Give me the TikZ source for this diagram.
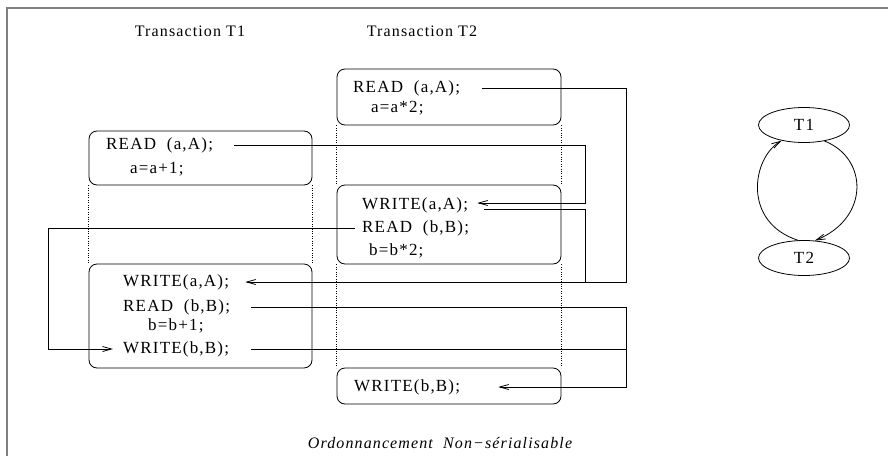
\documentclass[tikz,border=0pt]{standalone}
\usepackage{fontspec}
\setmainfont{Liberation Serif}[LetterSpace=7]
\usetikzlibrary{arrows.meta,shapes.geometric}
\definecolor{FrameColor}{HTML}{808080}
\tikzstyle{trans_box}=[rectangle,
                         minimum width=224pt,
                         draw=black,
                         line width=0.8pt,
                         rounded corners=8, ]
\tikzstyle{stmt}=[anchor=west, inner sep=0pt, font=\fontsize{17}{19}\selectfont]
\tikzstyle{graph_node}=[ellipse, draw=black, line width=0.8pt,
                          minimum width=91pt, minimum height=35pt, inner sep=0pt,
                          font=\fontsize{17}{19}\selectfont]
\tikzstyle{dep}=[line width=0.8pt, -{Straight Barb[length=9pt,width=5pt]}]
\tikzstyle{link}=[line width=0.8pt]

\begin{document}
\begin{tikzpicture}[x=1pt, y=-1pt]
    \useasboundingbox (0,0) rectangle (888,455);
    % ---------------------------------------------------------------------------------------------------------
    %  cadre et titres
    \draw[FrameColor, line width=1.5pt] (7,470) -- (7,8) -- (900,8);
    \node at (190,31) (titleT1) [font=\fontsize{16}{18}\selectfont] {Transaction T1};
    \node at (422,31) (titleT2) [font=\fontsize{16}{18}\selectfont] {Transaction T2};

    % ---------------------------------------------------------------------------------------------------------
    %  blocs des transactions
    \node at (449,97) (T2B1) [trans_box, minimum height=56pt] {};
    \node at (200.5,158) (T1B1) [trans_box, minimum width=223pt, minimum height=54pt] {};
    \node at (449,224.5) (T2B2) [trans_box, minimum height=79pt] {};
    \node at (200.5,316) (T1B2) [trans_box, minimum width=223pt, minimum height=104pt] {};
    \node at (449,386) (T2B3) [trans_box, minimum height=36pt] {};

    \draw[dotted] (T1B1.south west) -- (T1B2.north west);
    \draw[dotted] (T1B1.south east) -- (T1B2.north east);
    \draw[dotted] (T2B1.south west) -- (T2B2.north west);
    \draw[dotted] (T2B1.south east) -- (T2B2.north east);
    \draw[dotted] (T2B2.south west) -- (T2B3.north west);
    \draw[dotted] (T2B2.south east) -- (T2B3.north east);

    \node at (353,88) (T2ra) [stmt] {READ~~(a,A);};
    \node at (371,108) (T2a2) [stmt] {a=a*2;};
    \node at (106,145) (T1ra) [stmt] {READ~~(a,A);};
    \node at (130,169) (T1a1) [stmt] {a=a+1;};
    \node at (362,205) (T2wa) [stmt] {WRITE(a,A);};
    \node at (362,228) (T2rb) [stmt] {READ~~(b,B);};
    \node at (369,251) (T2b2) [stmt] {b=b*2;};
    \node at (123,282) (T1wa) [stmt] {WRITE(a,A);};
    \node at (123,307) (T1rb) [stmt] {READ~~(b,B);};
    \node at (148,326) (T1b1) [stmt] {b=b+1;};
    \node at (123,349) (T1wb) [stmt] {WRITE(b,B);};
    \node at (354,387) (T2wb) [stmt] {WRITE(b,B);};

    % ---------------------------------------------------------------------------------------------------------
    %  conflits
    \coordinate (colA) at (585,0);
    \coordinate (colB) at (626,0);
    \coordinate (colL) at (48,0);
    \coordinate (T2waIn) at ([yshift=2pt]T2wa.east);
    \coordinate (T2waOut) at ([yshift=-4pt]T2wa.east);

    \draw[dep, shorten <=22pt, shorten >=16pt] (T2ra.east) -| (colB |- T1wa.east) -- (T1wa.east);
    \draw[dep, shorten <=21pt, shorten >=9pt] (T1ra.east) -| (colA |- T2waIn) -- (T2waIn);
    \draw[link, shorten <=16pt] (T2waOut) -| (colA |- T1wa.east);
    \draw[dep, shorten <=7pt, shorten >=10pt] (T2rb.west) -| (colL |- T1wb.west) -- (T1wb.west);
    \draw[dep, shorten <=21pt, shorten >=38pt] (T1rb.east) -| (colB |- T2wb.east) -- (T2wb.east);
    \draw[link, shorten <=22pt] (T1wb.east) -- (T1wb.east -| colB);

    \node at (440,443) (caption) [font=\itshape\fontsize{16}{18}\selectfont] {Ordonnancement~~Non−sérialisable};

    % ---------------------------------------------------------------------------------------------------------
    %  graphe de precedence
    \node at (804,125) (G1) [graph_node] {T1};
    \node at (804,258) (G2) [graph_node] {T2};
    \draw[dep] (G2.109) .. controls (742,222) and (752,158) .. (G1.215);
    \draw[dep] (G1.-38) .. controls (868,158) and (870,218) .. (G2.58);
\end{tikzpicture}
\end{document}
